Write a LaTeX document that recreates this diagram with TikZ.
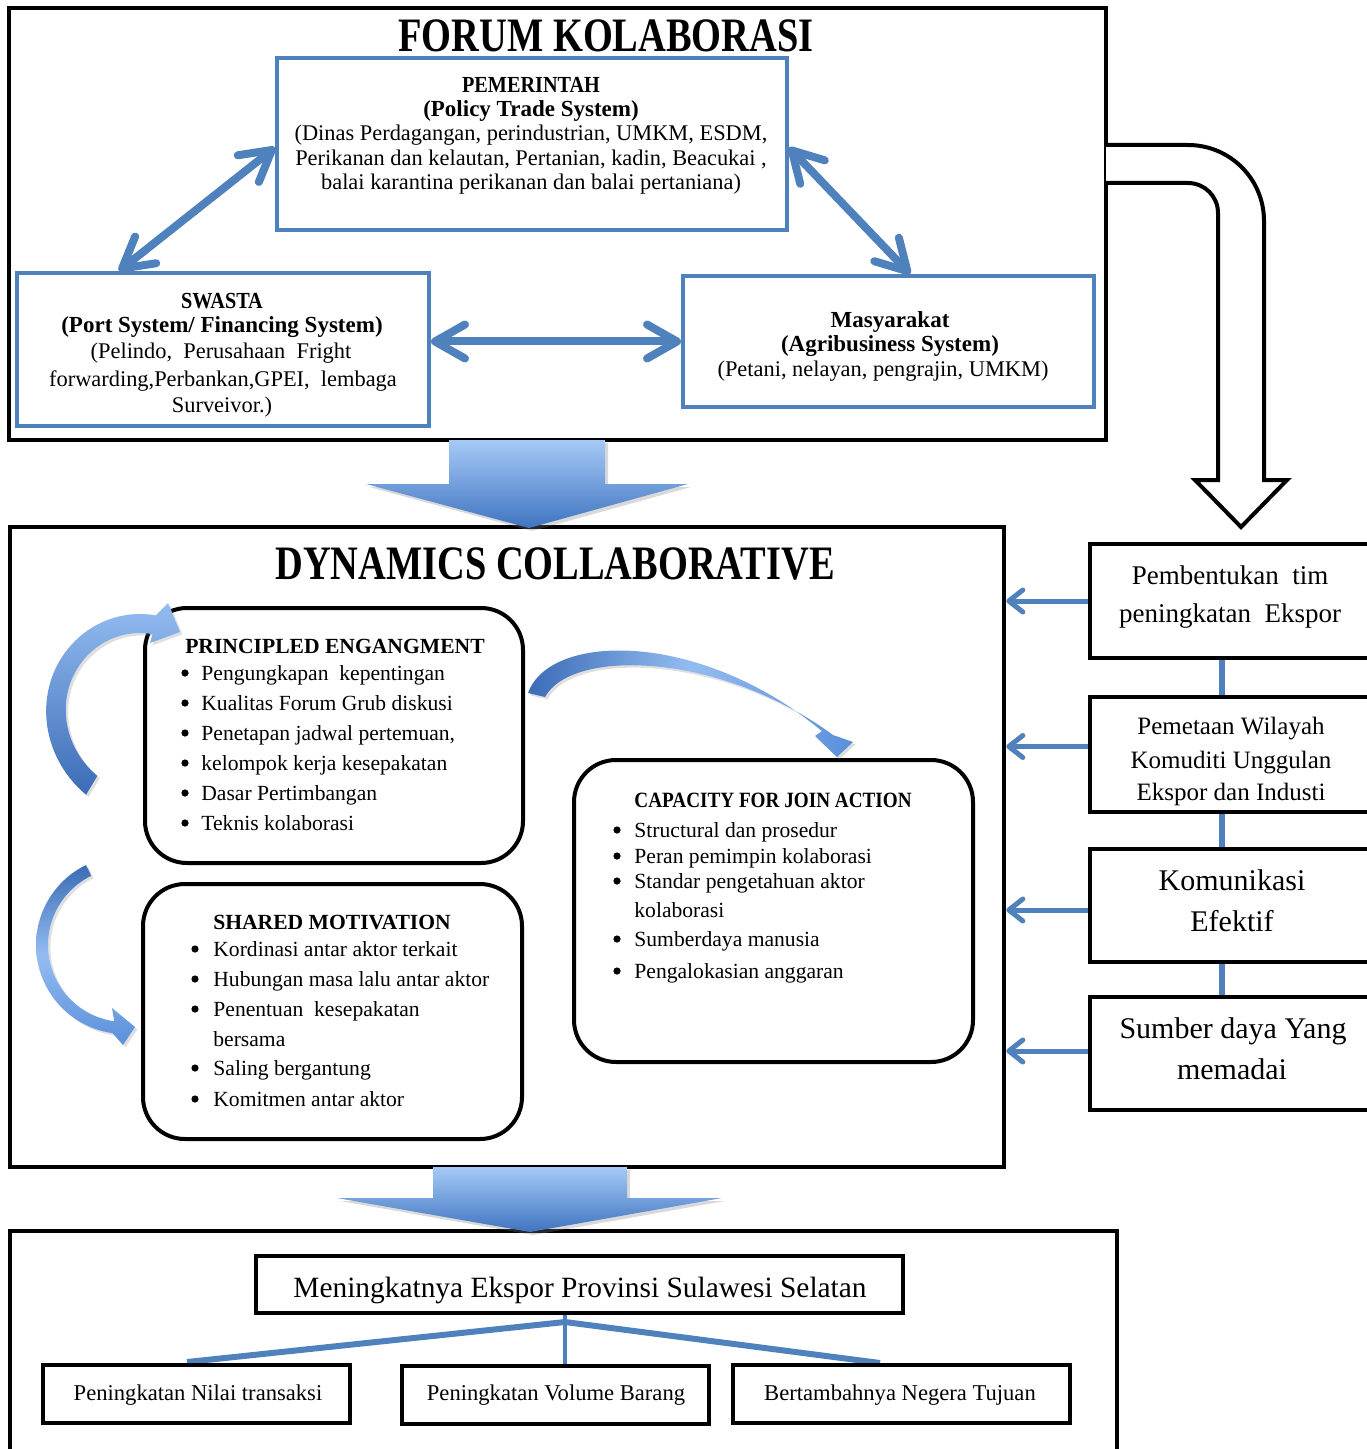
\documentclass[tikz,border=0pt]{standalone}
\usepackage{fontspec}
\setmainfont{Liberation Serif}
\newfontfamily\narrowserif[FakeStretch=0.88]{Liberation Serif}
\newfontfamily\condserif[FakeStretch=0.8]{Liberation Serif}
\usetikzlibrary{arrows.meta,calc,shadows}

\definecolor{boxblue}{HTML}{4F81BD}
\definecolor{arrlight}{HTML}{A6CAF7}
\definecolor{arrdark}{HTML}{3F74C0}
\definecolor{curvelight}{HTML}{93BCF1}
\definecolor{curvemid}{HTML}{5A8FDA}
\definecolor{curvedark}{HTML}{3B6CB6}

\begin{document}
\begin{tikzpicture}[x=0.5pt, y=-0.5pt,
  frame/.style={draw=black, line width=2.3pt, inner sep=0pt},
  bluebox/.style={draw=boxblue, line width=2pt, fill=white, inner sep=0pt},
  roundbox/.style={draw=black, line width=2pt, rounded corners=21pt, fill=white, inner sep=0pt},
  blk/.style={draw=black, line width=2pt, fill=white, inner sep=0pt},
  txt/.style={inner sep=0pt, anchor=mid, yshift=-1.6pt},
  ltxt/.style={inner sep=0pt, anchor=mid west, yshift=-1.6pt},
  bul/.style={circle, fill=black, inner sep=0pt, minimum size=3.6pt},
  link/.style={draw=boxblue, line width=4pt,
    {Straight Barb[length=15pt,width=17pt,round]}-{Straight Barb[length=15pt,width=17pt,round]}},
  feed/.style={draw=boxblue, line width=2.5pt, -{Straight Barb[length=7pt,width=11pt,round]}},
  vlink/.style={draw=boxblue, line width=3pt},
  bigarrow/.style={top color=arrlight, bottom color=arrdark,
    drop shadow={opacity=0.3, shadow xshift=1.5pt, shadow yshift=-1.5pt}},
  cshadow/.style={drop shadow={opacity=0.25, shadow xshift=1.2pt, shadow yshift=-1.2pt}},
  fhead/.style={font=\fontsize{11.5}{13}\selectfont\bfseries},
  fcaps/.style={font=\fontsize{11.5}{13}\selectfont\narrowserif\bfseries},
  fbody/.style={font=\fontsize{11.2}{13}\selectfont},
  ftitle/.style={font=\fontsize{24}{27}\selectfont\condserif\bfseries, yshift=-3.4pt},
  lhead/.style={font=\fontsize{10.8}{12}\selectfont\bfseries},
  litem/.style={font=\fontsize{10.8}{12}\selectfont},
]
\useasboundingbox (0,0) rectangle (1366,1449);

% ---------- outer frames ----------
\node[frame, minimum width=548.5pt, minimum height=216pt] (forum) at (557.5,224) {};
\node[frame, minimum width=497pt, minimum height=320pt] (dyn) at (507,847) {};
\node[frame, minimum width=553.5pt, minimum height=124.5pt] (out) at (563.5,1355.5) {};

% ---------- hollow U-turn arrow from the forum to the right column ----------
\draw[line width=2pt, fill=white, line join=miter]
  (1106,145) -- (1188,145) .. controls (1230,145) and (1264,179) .. (1264,221)
  -- (1264,480) -- (1287,480) -- (1241,527) -- (1195,480) -- (1218,480)
  -- (1218,213) .. controls (1218,196.4) and (1204.6,183) .. (1188,183) -- (1106,183);

% ---------- forum actors ----------
\node[bluebox, minimum width=255pt, minimum height=86pt] (pem) at (532,144) {};
\node[bluebox, minimum width=206pt, minimum height=76.5pt] (sw) at (223,349.5) {};
\node[bluebox, minimum width=205.5pt, minimum height=65.5pt] (mas) at (888.5,341.5) {};

\draw[link] ($(pem.north west)!0.52!(pem.south west)$) -- ($(sw.north west)!0.25!(sw.north east)$);
\draw[link] ($(pem.north east)!0.52!(pem.south east)$) -- ($(mas.north west)!0.552!(mas.north east)$);
\draw[link] (sw.east |- mas.west) -- (mas.west);

% ---------- collaborative dynamics ----------
\node[roundbox, minimum width=189pt, minimum height=127.5pt] (pe) at (334,735.5) {};
\node[roundbox, minimum width=189.5pt, minimum height=127.5pt] (sm) at (332.5,1011.5) {};
\node[roundbox, minimum width=199.5pt, minimum height=151pt] (ca) at (773.5,911) {};

% ---------- right column ----------
\node[blk, minimum width=150pt, minimum height=57pt] (r1) at (1240,601) {};
\node[blk, minimum width=150pt, minimum height=57.5pt] (r2) at (1240,754.5) {};
\node[blk, minimum width=150pt, minimum height=56.5pt] (r3) at (1240,905.5) {};
\node[blk, minimum width=150pt, minimum height=56.5pt] (r4) at (1240,1053.5) {};

\draw[vlink] ($(r1.south west)+(134,0)$) -- ($(r2.north west)+(134,0)$);
\draw[vlink] ($(r2.south west)+(134,0)$) -- ($(r3.north west)+(134,0)$);
\draw[vlink] ($(r3.south west)+(134,0)$) -- ($(r4.north west)+(134,0)$);

\coordinate (f1) at (r1.west);
\coordinate (f2) at ($(r2.west)+(0,-8)$);
\coordinate (f3) at ($(r3.west)+(0,4.5)$);
\coordinate (f4) at ($(r4.west)+(0,-2.5)$);
\foreach \f in {f1,f2,f3,f4}
  \draw[feed] (\f) -- (\f -| dyn.east);

% ---------- outcomes ----------
\node[blk, minimum width=323.5pt, minimum height=28.5pt] (mk) at (579.5,1284.5) {};
\coordinate (jn) at ($(mk.south)+(-14.5,7)$);
\draw[boxblue, line width=1.8pt] (jn |- mk.south) -- ($(jn |- mk.south)+(0,53)$);
\draw[boxblue, line width=3pt] (jn) -- (187,1362);
\draw[boxblue, line width=3pt] (jn) -- (880,1363);
\node[blk, minimum width=153.5pt, minimum height=29pt] (b1) at (196.5,1394) {};
\node[blk, minimum width=153.5pt, minimum height=29pt] (b2) at (555.5,1395) {};
\node[blk, minimum width=168.5pt, minimum height=29pt] (b3) at (901.5,1394) {};

% ---------- block arrows between the stages ----------
\shade[bigarrow] (449,440) -- (605,440) -- (605,484) -- (688,484) -- (529,528)
  -- (366,484) -- (449,484) -- cycle;
\shade[bigarrow] (433,1167) -- (627,1167) -- (627,1198) -- (722,1198) -- (530,1232)
  -- (337,1198) -- (433,1198) -- cycle;

% ---------- curved cycle arrows ----------
% left loop into the principled-engagement box
\shade[cshadow, top color=curvelight, bottom color=curvedark]
  plot[domain=121:280, samples=50] ({140+(91+14*((262-\x)/142)^3)*cos(\x)},{705+(91+14*((262-\x)/142)^3)*sin(\x)})
  -- (168,603) -- (180,632) -- (150,643)
  -- plot[domain=280:121, samples=50] ({140+(72+11*((262-\x)/142)^3)*cos(\x)},{705+(72+11*((262-\x)/142)^3)*sin(\x)})
  -- cycle;
% left loop into the shared-motivation box
\shade[cshadow, top color=curvedark, bottom color=curvemid, middle color=curvelight]
  plot[domain=244:98, samples=50] ({125+89*cos(\x)},{945+89*sin(\x)})
  -- (123,1045) -- (135,1027) -- (112,1008)
  -- plot[domain=98:244, samples=50] ({125+77*cos(\x)},{945+77*sin(\x)}) -- cycle;
% arc over to the capacity box
\shade[cshadow, left color=curvedark, right color=curvemid, middle color=curvelight]
  (528,693) .. controls (550,632) and (700,630) .. (822,731)
  -- (815,736) -- (837,757) -- (853,742) -- (833,735)
  .. controls (720,652) and (572,648) .. (545,697) -- cycle;

% ---------- titles ----------
\node[txt, ftitle] (t1) at (606,37) {FORUM KOLABORASI};
\node[txt, ftitle] (t2) at (555,565) {DYNAMICS COLLABORATIVE};

% ---------- forum texts ----------
\node[txt, fcaps] (pem1) at (531,85) {PEMERINTAH};
\node[txt, fhead] (pem2) at (531,109) {(Policy Trade System)};
\node[txt, fbody] (pem3) at (531,133) {(Dinas Perdagangan, perindustrian, UMKM, ESDM,};
\node[txt, fbody] (pem4) at (531,158) {Perikanan dan kelautan, Pertanian, kadin, Beacukai ,};
\node[txt, fbody] (pem5) at (531,182) {balai karantina perikanan dan balai pertaniana)};

\node[txt, fcaps] (sw1) at (222,301) {SWASTA};
\node[txt, fhead] (sw2) at (222,325) {(Port System/ Financing System)};
\node[txt, fbody] (sw3) at (221,351) {(Pelindo,\ \ Perusahaan\ \ Fright};
\node[txt, fbody] (sw4) at (223,379) {forwarding,Perbankan,GPEI,\ \ lembaga};
\node[txt, fbody] (sw5) at (222,405) {Surveivor.)};

\node[txt, fhead] (mas1) at (890,320) {Masyarakat};
\node[txt, fhead] (mas2) at (890,344) {(Agribusiness System)};
\node[txt, fbody] (mas3) at (883,369) {(Petani, nelayan, pengrajin, UMKM)};

% ---------- principled engagement ----------
\node[txt, lhead] (peh) at (335,646) {PRINCIPLED ENGANGMENT};
\foreach \y/\t [count=\i] in {673/{Pengungkapan\ \ kepentingan},
    703/{Kualitas Forum Grub diskusi},
    733/{Penetapan jadwal pertemuan,},
    763/{kelompok kerja kesepakatan},
    793/{Dasar Pertimbangan},
    823/{Teknis kolaborasi}}{
  \node[bul] (peb\i) at (185,\y) {};
  \node[ltxt, litem] (pet\i) at (201,\y) {\t};
}

% ---------- shared motivation ----------
\node[txt, lhead] (smh) at (332,922) {SHARED MOTIVATION};
\foreach \y/\t [count=\i] in {949/{Kordinasi antar aktor terkait},
    979/{Hubungan masa lalu antar aktor},
    1009/{Penentuan\ \ kesepakatan},
    1068/{Saling bergantung},
    1099/{Komitmen antar aktor}}{
  \node[bul] (smb\i) at (195,\y) {};
  \node[ltxt, litem] (smt\i) at (213,\y) {\t};
}
\node[ltxt, litem] (smc) at (213,1039) {bersama};

% ---------- capacity for joint action ----------
\node[ltxt, font=\fontsize{10.9}{12}\selectfont\narrowserif\bfseries] (cah) at (634,800) {CAPACITY FOR JOIN ACTION};
\foreach \y/\t [count=\i] in {830/{Structural dan prosedur},
    856/{Peran pemimpin kolaborasi},
    881/{Standar pengetahuan aktor},
    939/{Sumberdaya manusia},
    971/{Pengalokasian anggaran}}{
  \node[bul] (cab\i) at (617,\y) {};
  \node[ltxt, litem] (cat\i) at (634,\y) {\t};
}
\node[ltxt, litem] (cac) at (634,910) {kolaborasi};

% ---------- right column texts ----------
\begin{scope}[every node/.append style={yshift=-1.2pt}]
\node[txt, font=\fontsize{13.5}{15}\selectfont] (r1a) at (1230,574) {Pembentukan\ \ tim};
\node[txt, font=\fontsize{13.5}{15}\selectfont] (r1b) at (1230,612) {peningkatan\ \ Ekspor};
\node[txt, font=\fontsize{12.5}{14}\selectfont] (r2a) at (1231,724) {Pemetaan Wilayah};
\node[txt, font=\fontsize{12.5}{14}\selectfont] (r2b) at (1231,758) {Komuditi Unggulan};
\node[txt, font=\fontsize{12.5}{14}\selectfont] (r2c) at (1231,790) {Ekspor dan Industi};
\node[txt, font=\fontsize{15}{17}\selectfont] (r3a) at (1232,880) {Komunikasi};
\node[txt, font=\fontsize{15}{17}\selectfont] (r3b) at (1232,921) {Efektif};
\node[txt, font=\fontsize{15}{17}\selectfont] (r4a) at (1233,1028) {Sumber daya Yang};
\node[txt, font=\fontsize{15}{17}\selectfont] (r4b) at (1232,1069) {memadai};

% ---------- outcome texts ----------
\node[txt, font=\fontsize{14.7}{16}\selectfont] (mkt) at (580,1287) {Meningkatnya Ekspor Provinsi Sulawesi Selatan};
\end{scope}
\node[txt, font=\fontsize{11.3}{13}\selectfont] (b1t) at (198,1393) {Peningkatan Nilai transaksi};
\node[txt, font=\fontsize{11.3}{13}\selectfont] (b2t) at (556,1393) {Peningkatan Volume Barang};
\node[txt, font=\fontsize{11.3}{13}\selectfont] (b3t) at (900,1393) {Bertambahnya Negera Tujuan};
\end{tikzpicture}
\end{document}
